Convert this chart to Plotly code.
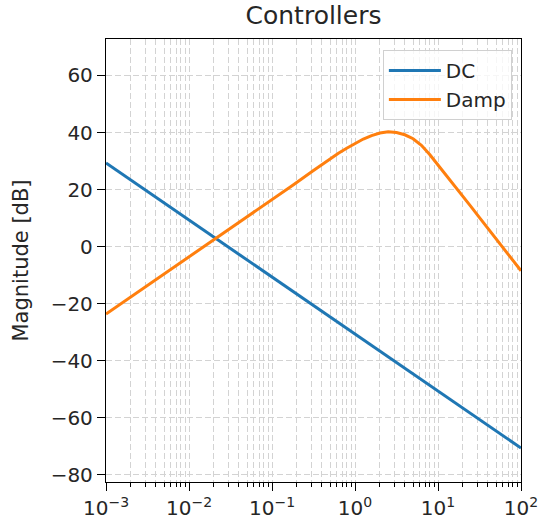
import plotly.graph_objects as go

# Frequencies in rad/s, magnitudes in dB
freq_dc = [0.001, 0.01, 0.1, 1.0, 10.0, 100.0]
mag_dc = [29.3, 9.3, -10.7, -30.7, -50.7, -70.7]

freq_damp = [0.001, 0.00316, 0.01, 0.0316, 0.1, 0.178, 0.316, 0.398, 0.501, 0.631,
             0.794, 1.0, 1.259, 1.585, 1.995, 2.512, 3.162, 3.981, 5.012, 6.310,
             7.943, 10.0, 12.59, 15.85, 19.95, 25.12, 31.62, 56.23, 100.0]
mag_damp = [-23.7, -13.7, -3.7, 6.3, 16.4, 21.5, 26.7, 28.8, 30.8, 32.7,
            34.5, 36.2, 37.7, 38.9, 39.8, 40.3, 40.0, 39.2, 37.8, 35.5,
            32.3, 28.6, 25.0, 21.35, 17.65, 13.9, 10.15, 0.8, -8.5]

decades = [1e-3, 1e-2, 1e-1, 1e0, 1e1, 1e2]
decade_labels = ["10<sup>−3</sup>", "10<sup>−2</sup>", "10<sup>−1</sup>",
                 "10<sup>0</sup>", "10<sup>1</sup>", "10<sup>2</sup>"]
minor_vals = [m * d for d in decades[:-1] for m in range(2, 10)]
y_ticks = [-80, -60, -40, -20, 0, 20, 40, 60]
y_labels = [str(v).replace("-", "\u2212") for v in y_ticks]

FONT = "DejaVu Sans"
GRID = dict(gridcolor="#d3d3d3", gridwidth=1.3, griddash="6px,3px")

fig = go.Figure()
fig.add_trace(go.Scatter(x=freq_dc, y=mag_dc, mode="lines", name="DC",
                         line=dict(color="#1f77b4", width=3)))
fig.add_trace(go.Scatter(x=freq_damp, y=mag_damp, mode="lines", name="Damp",
                         line=dict(color="#ff7f0e", width=3)))

fig.update_layout(
    width=539, height=527,
    margin=dict(l=106, r=18, t=39, b=45),
    paper_bgcolor="white", plot_bgcolor="white",
    font=dict(family=FONT, size=20, color="#262626"),
    title=dict(text="Controllers", x=313.5 / 539, xanchor="center",
               y=1 - 15 / 527, yanchor="middle",
               font=dict(family=FONT, size=25, color="#262626")),
    legend=dict(x=0.978, xanchor="right", y=0.975, yanchor="top",
                bgcolor="rgba(255,255,255,0.8)", bordercolor="#d0d0d0", borderwidth=1,
                itemwidth=52,
                font=dict(family=FONT, size=20, color="#262626")),
    showlegend=True,
)

fig.update_xaxes(
    type="log", range=[-3, 2], automargin=False,
    tickmode="array", tickvals=decades, ticktext=decade_labels,
    ticks="outside", ticklen=8, tickwidth=1.3, tickcolor="black",
    showline=True, linecolor="black", linewidth=1.3, mirror=True,
    showgrid=True, **GRID, zeroline=False,
    minor=dict(tickmode="array", tickvals=minor_vals, ticks="outside", ticklen=4,
               tickwidth=1, tickcolor="black", showgrid=True, **GRID),
)
fig.update_yaxes(
    range=[-82.6, 72.8], automargin=False,
    tickmode="array", tickvals=y_ticks, ticktext=y_labels,
    ticks="outside", ticklen=8, tickwidth=1.3, tickcolor="black",
    showline=True, linecolor="black", linewidth=1.3, mirror=True,
    showgrid=True, **GRID, zeroline=False,
    title=dict(text="Magnitude [dB]", standoff=16, font=dict(family=FONT, size=21)),
)

fig.write_html("out.html")
